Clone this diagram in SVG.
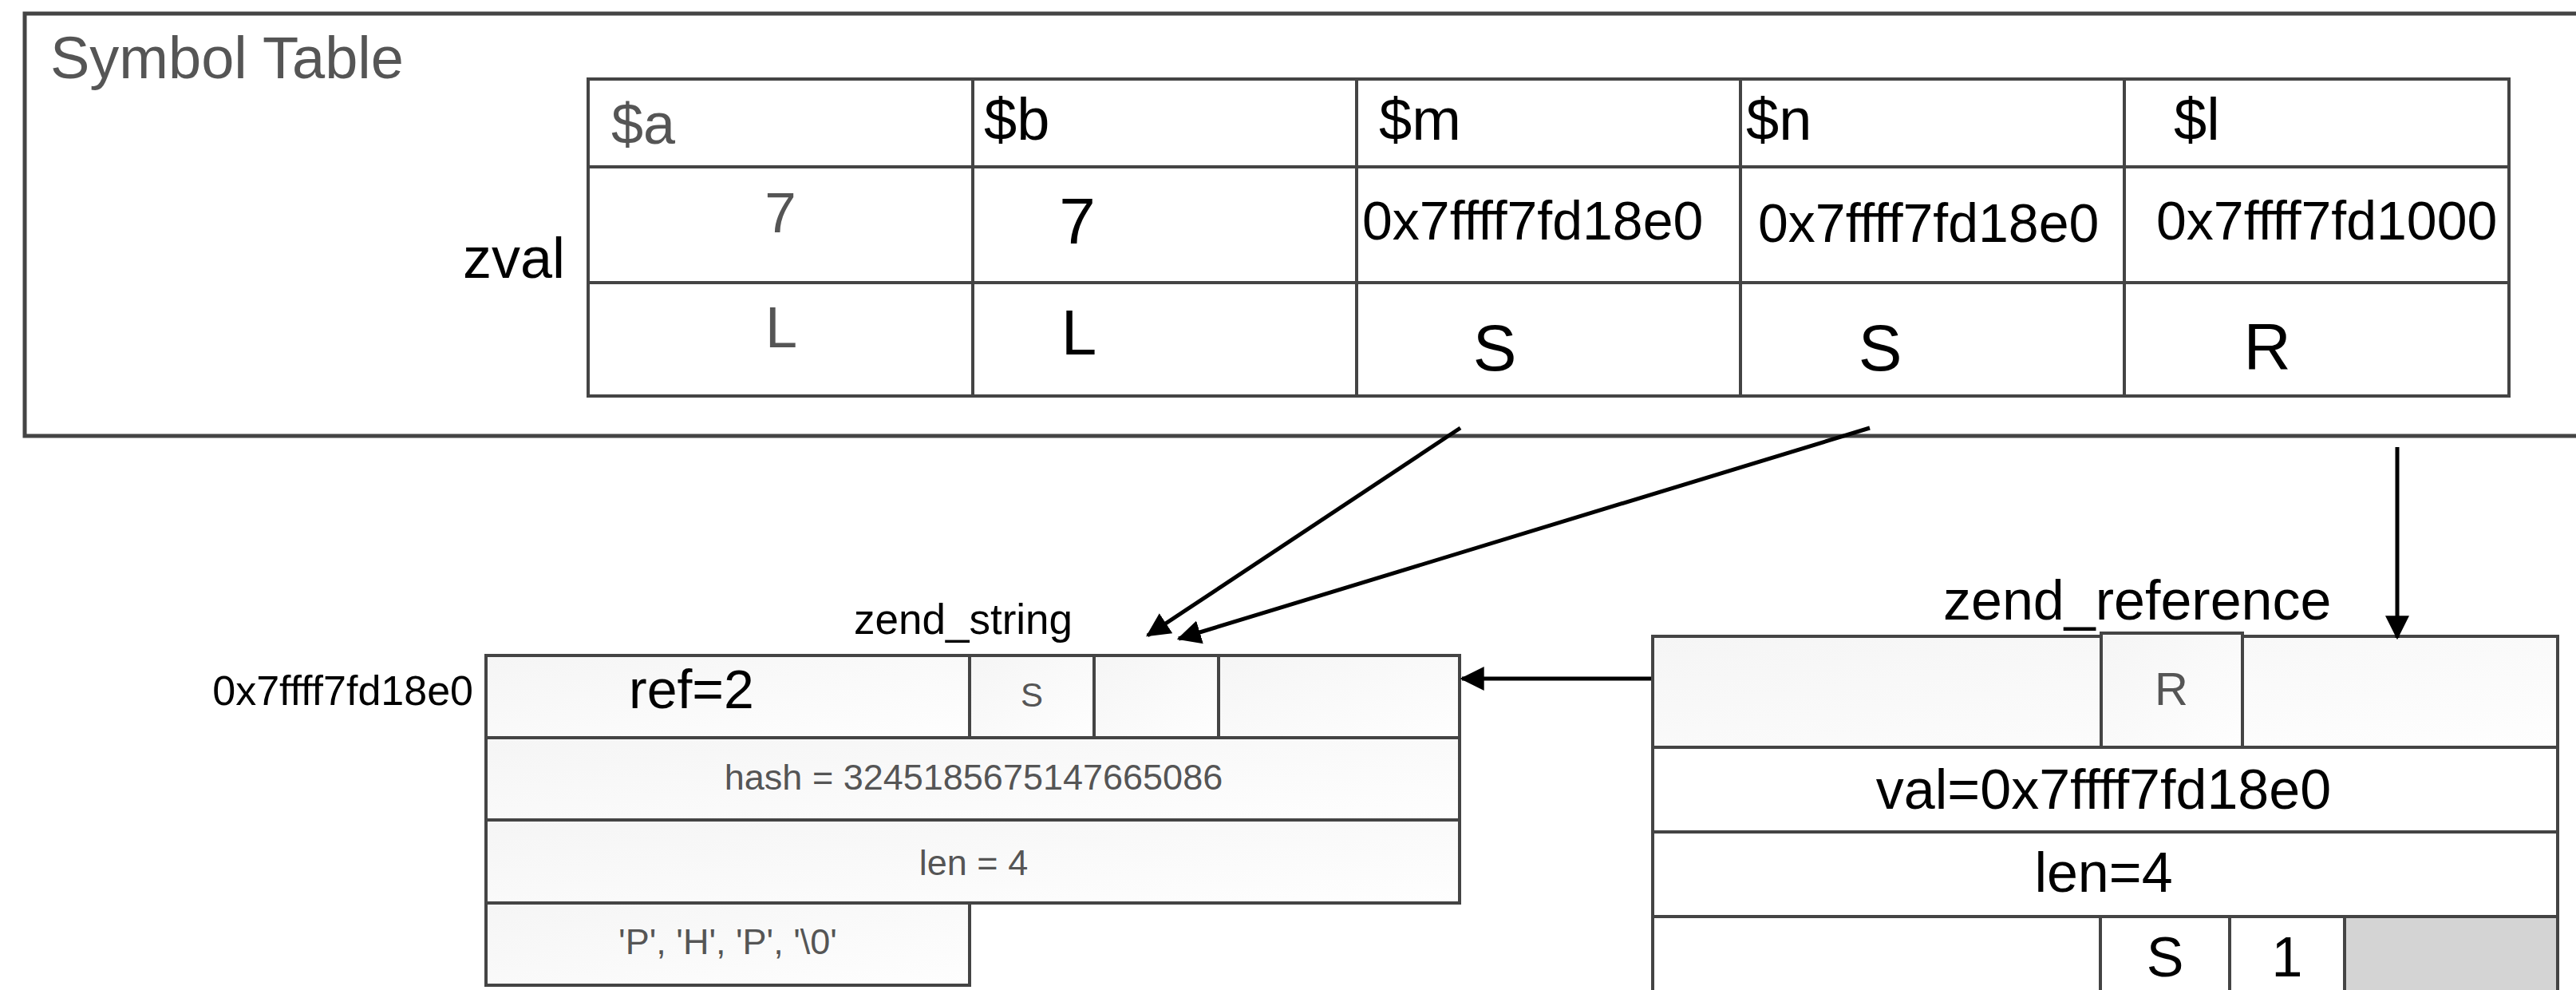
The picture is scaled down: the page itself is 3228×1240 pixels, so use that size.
<svg xmlns="http://www.w3.org/2000/svg" width="3228" height="1240" viewBox="0 0 3228 1240">
<style>
  text { font-family: "Liberation Sans", Arial, sans-serif; }
  .frame { fill: none; stroke: #444; stroke-width: 5; }
  .cell { fill: #fff; stroke: #444; stroke-width: 4; }
  .gcell { fill: url(#soft); stroke: #444; stroke-width: 4; }
  .grey { fill: #555; }
  .blk { fill: #000; }
  .mid { text-anchor: middle; }
  .conn { stroke: #000; stroke-width: 5; fill: none; marker-end: url(#arrow); }
</style>
<defs>
  <linearGradient id="soft" x1="0" y1="0" x2="1" y2="1">
    <stop offset="0" stop-color="#f5f5f5"/>
    <stop offset="1" stop-color="#fefefe"/>
  </linearGradient>
  <marker id="arrow" markerUnits="userSpaceOnUse" markerWidth="30" markerHeight="30" viewBox="0 0 26 26" refX="24" refY="13" orient="auto">
    <path d="M0,0 L26,13 L0,26 Z" fill="#000"/>
  </marker>
</defs>

<g id="symbol-table">
  <rect class="frame" x="31" y="17" width="3220" height="529"/>
  <text class="grey" x="63" y="98" font-size="74">Symbol Table</text>
  <text class="blk" x="708" y="348" font-size="72" text-anchor="end">zval</text>
  <rect class="cell" x="737" y="99" width="2407" height="397"/>
  <line stroke="#444" stroke-width="4" x1="737" y1="209" x2="3144" y2="209"/>
  <line stroke="#444" stroke-width="4" x1="737" y1="354" x2="3144" y2="354"/>
  <line stroke="#444" stroke-width="4" x1="1219" y1="99" x2="1219" y2="496"/>
  <line stroke="#444" stroke-width="4" x1="1700" y1="99" x2="1700" y2="496"/>
  <line stroke="#444" stroke-width="4" x1="2181" y1="99" x2="2181" y2="496"/>
  <line stroke="#444" stroke-width="4" x1="2662" y1="99" x2="2662" y2="496"/>
  <text class="grey" x="766" y="180" font-size="72">$a</text>
  <text class="blk" x="1233" y="175" font-size="74">$b</text>
  <text class="blk" x="1728" y="175" font-size="74">$m</text>
  <text class="blk" x="2188" y="175" font-size="74">$n</text>
  <text class="blk" x="2724" y="175" font-size="74">$l</text>
  <text class="grey mid" x="978" y="291" font-size="71">7</text>
  <text class="blk mid" x="1350" y="305" font-size="82">7</text>
  <text class="blk" x="1707" y="300" font-size="68">0x7ffff7fd18e0</text>
  <text class="blk" x="2203" y="303" font-size="68">0x7ffff7fd18e0</text>
  <text class="blk" x="2702" y="300" font-size="68">0x7ffff7fd1000</text>
  <text class="grey mid" x="979" y="435" font-size="72">L</text>
  <text class="blk mid" x="1352" y="444" font-size="80">L</text>
  <text class="blk mid" x="1873" y="464" font-size="82">S</text>
  <text class="blk mid" x="2356" y="464" font-size="82">S</text>
  <text class="blk mid" x="2841" y="462" font-size="82">R</text>
</g>

<g id="zend-string">
  <text class="blk" x="1070" y="794" font-size="53">zend_string</text>
  <text class="blk" x="593" y="883" font-size="52" text-anchor="end">0x7ffff7fd18e0</text>
  <rect class="gcell" x="609" y="821" width="606" height="103"/>
  <rect class="gcell" x="1215" y="821" width="156" height="103"/>
  <rect class="gcell" x="1371" y="821" width="156" height="103"/>
  <rect class="gcell" x="1527" y="821" width="302" height="103"/>
  <rect class="gcell" x="609" y="924" width="1220" height="103"/>
  <rect class="gcell" x="609" y="1027" width="1220" height="104"/>
  <rect class="gcell" x="609" y="1131" width="606" height="103"/>
  <text class="blk" x="788" y="887" font-size="68">ref=2</text>
  <text class="grey mid" x="1293" y="885" font-size="42">S</text>
  <text class="grey mid" x="1220" y="989" font-size="45">hash = 3245185675147665086</text>
  <text class="grey mid" x="1220" y="1096" font-size="45">len = 4</text>
  <text class="grey mid" x="912" y="1195" font-size="45">'P', 'H', 'P', '\0'</text>
</g>

<g id="zend-reference">
  <text class="blk" x="2435" y="776" font-size="70">zend_reference</text>
  <rect class="gcell" x="2071" y="797" width="1134" height="139"/>
  <rect class="gcell" x="2633" y="793" width="177" height="143"/>
  <rect class="cell" x="2071" y="936" width="1134" height="106"/>
  <rect class="cell" x="2071" y="1042" width="1134" height="106"/>
  <rect class="cell" x="2071" y="1148" width="561" height="110"/>
  <rect class="cell" x="2632" y="1148" width="162" height="110"/>
  <rect class="cell" x="2794" y="1148" width="144" height="110"/>
  <rect x="2938" y="1148" width="267" height="110" fill="#d4d4d4" stroke="#444" stroke-width="4"/>
  <text class="grey mid" x="2721" y="883" font-size="58">R</text>
  <text class="blk mid" x="2636" y="1013" font-size="70">val=0x7ffff7fd18e0</text>
  <text class="blk mid" x="2636" y="1117" font-size="70">len=4</text>
  <text class="blk mid" x="2713" y="1223" font-size="70">S</text>
  <text class="blk mid" x="2866" y="1223" font-size="70">1</text>
</g>

<g id="connectors">
  <line class="conn" x1="1830" y1="536" x2="1438" y2="796"/>
  <line class="conn" x1="2343" y1="536" x2="1477" y2="800"/>
  <line class="conn" x1="3004" y1="560" x2="3004" y2="799"/>
  <line class="conn" x1="2069" y1="850" x2="1832" y2="850"/>
</g>
</svg>
